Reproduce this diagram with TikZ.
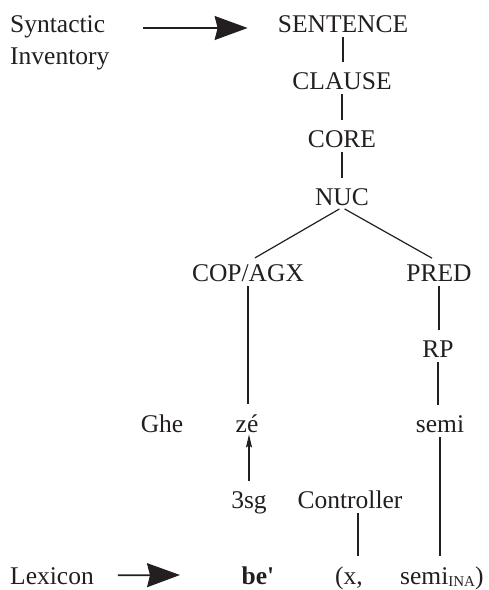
\documentclass[tikz,border=0pt]{standalone}
\usepackage{xcolor}
\usepackage{fontspec}
\setmainfont{Liberation Serif}
\usepackage{tikz}
\usetikzlibrary{arrows.meta}
\definecolor{ink}{HTML}{231F20}

\begin{document}
\begin{tikzpicture}[
    x=1pt, y=-1pt,
    every node/.style={font=\fontsize{25.5}{31.5}\selectfont, text=ink, inner sep=2pt},
    word/.style={anchor=base},
    tier/.style={anchor=base west, align=left},
    branch/.style={draw=ink, line width=1.2pt, shorten <=3pt, shorten >=8pt},
    arrow/.style={draw=ink, line width=1.7pt, -{Stealth[length=33pt, width=24pt, inset=3pt]}},
    agree/.style={draw=ink, line width=1.1pt, -{Stealth[length=13pt, width=6pt, inset=2pt]}}
]
\useasboundingbox (0,0) rectangle (489,590);

% levels
\node[tier] (synt) at (8,64) {Syntactic\\Inventory};
\node[tier] (lexicon) at (8,584) {Lexicon};
\coordinate (invarr) at (143,28);
\coordinate (lexarr) at (180,575);

% layered structure
\node[word] (sentence) at (343,32) {SENTENCE};
\node[word] (clause) at (342,89) {CLAUSE};
\node[word] (core) at (342,147) {CORE};
\node[word] (nuc) at (342,205) {NUC};
\node[word] (copagx) at (248,281) {COP/AGX};
\node[word] (pred) at (439,281) {PRED};
\node[word] (rp) at (438,357) {RP};
\node[word] (ghe) at (162,432) {Ghe};
\node[word] (ze) at (247,432) {zé};
\node[word] (semi) at (440,432) {semi};
\node[word] (sg) at (249,508) {3sg};
\node[word] (controller) at (350,508) {Controller};

% logical structure
\node[word] (be) at (258,584) {\textbf{be\textquotesingle}};
\node[tier] (argx) at (333,584) {(x,};
\node[tier] (argsemi) at (398,584) {semi\raisebox{-2.5pt}{\fontsize{15}{15}\selectfont INA})};

\draw[arrow, shorten >=28pt] (invarr) -- (invarr -| sentence.west);
\draw[arrow, shorten <=22pt] (lexicon) -- (lexarr);

\draw[branch] (sentence.south) -- (sentence.south |- clause.north);
\draw[branch] (clause.south) -- (clause.south |- core.north);
\draw[branch] (core.south) -- (core.south |- nuc.north);
\draw[branch] (nuc.south) -- (copagx.north);
\draw[branch] (nuc.south) -- (pred.north);
\draw[branch] (copagx.south) -- (copagx.south |- ze.north);
\draw[branch] (pred.south) -- (pred.south |- rp.north);
\draw[branch] (rp.south) -- (rp.south |- semi.north);
\draw[branch] (semi.south) -- (semi.south |- argsemi.north);
\draw[branch] ([xshift=8pt]controller.south) -- ([xshift=8pt]controller.south |- argx.north);
\draw[agree, shorten <=8pt] (sg.north) -- (sg.north |- ze.south);
\end{tikzpicture}
\end{document}
